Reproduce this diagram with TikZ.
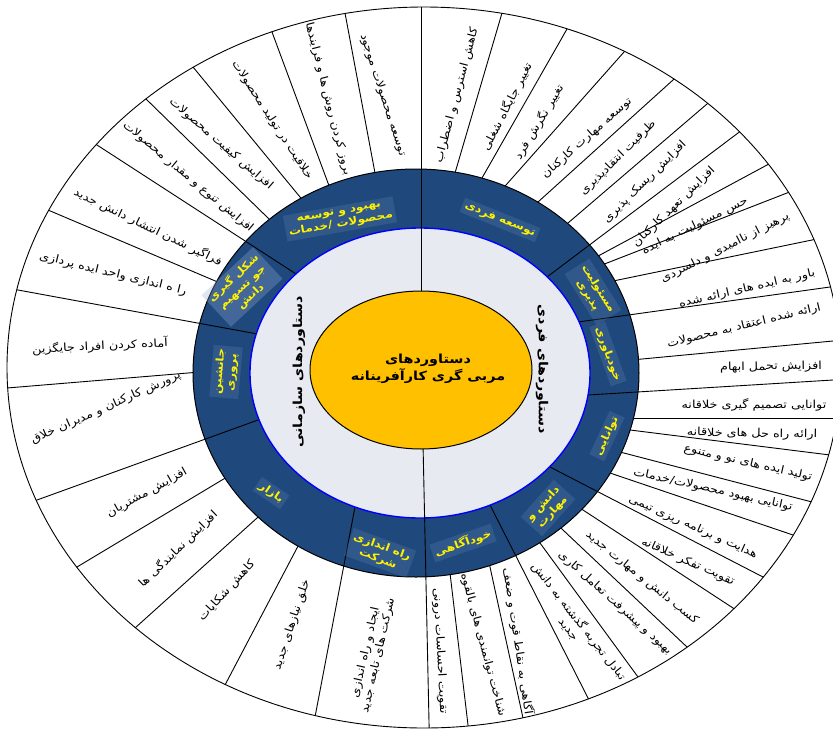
\documentclass[tikz,border=0pt]{standalone}
\usepackage{fontspec}
\usetikzlibrary{calc}
\newfontfamily\pfont[Script=Arabic, FakeStretch=1.15]{DejaVu Sans}
\TeXXeTstate=1
\newcommand{\rl}[1]{\beginR #1\endR}
\definecolor{ringblue}{RGB}{31,73,125}
\definecolor{catfill}{RGB}{150,175,215}
\definecolor{graybg}{RGB}{231,234,241}
\definecolor{corefill}{RGB}{255,192,0}
\tikzset{
  divline/.style={black, line width=0.9pt},
  itemtext/.style={font={\pfont\fontsize{11.1}{13}\selectfont}, inner sep=0pt, align=center},
  cattext/.style={font={\pfont\bfseries\fontsize{10.5}{12.5}\selectfont}, text=yellow,
    fill=catfill, fill opacity=0.15, text opacity=1, inner sep=3pt, align=center},
  halftext/.style={font={\pfont\bfseries\fontsize{12.4}{14}\selectfont}, inner sep=0pt},
  coretext/.style={font={\pfont\bfseries\fontsize{12.5}{17}\selectfont}, inner sep=0pt, align=center}
}
\begin{document}
\begin{tikzpicture}[x=1pt,y=-1pt,line join=round]
\useasboundingbox (0,0) rectangle (833,729);
\fill[white] (0,0) rectangle (833,729);
\coordinate (oc) at (424,367.5);
\coordinate (bc) at (416,373);
\coordinate (gc) at (420,373);
\coordinate (ec) at (421,370);

% outer ring of items
\draw[divline, fill=white] (oc) ellipse [x radius=417pt, y radius=360.5pt];
\begin{scope}
  \clip (oc) ellipse [x radius=417pt, y radius=360.5pt];
  \foreach \n/\ix/\iy/\ox/\oy in {
     1/455/173/502/13, 2/482/178/567/29, 3/506/185/624/52, 4/538/202/673/80,
     5/568/223/707/104, 7/600/255/767/165, 8/607/263/787/193, 9/618/280/812/240,
     11/642/359/833/341, 13/637/418/833/418, 14/630/430/830/455, 15/620/452/812/502,
     16/610/473/793/535, 18/583/510/733/608, 19/563/530/687/647, 20/540/543/638/677,
     22/490/567/523/718, 23/450/573/468/725, 26/297/548/225/685, 27/257/518/135/628,
     28/222/480/77/567, 30/188/373/7/388, 32/213/280/48/210, 34/268/218/145/98,
     35/300/197/193/67, 36/328/183/272/32, 37/375/173/345/13}{
    \coordinate (i\n) at (\ix,\iy);
    \coordinate (o\n) at (\ox,\oy);
    \draw[divline] ($(i\n)!-12pt!(o\n)$) -- ($(o\n)!-25pt!(i\n)$);
  }
\end{scope}

% ring of categories
\draw[black, line width=1pt, fill=ringblue] (bc) ellipse [x radius=223pt, y radius=204pt];
\begin{scope}
  \clip (oc) ellipse [x radius=417pt, y radius=360.5pt];
  \foreach \n/\ix/\iy/\ox/\oy in {
     6/543/280/738/133, 10/578/322/830/287, 12/588/395/833/380, 17/550/467/763/577,
     21/490/505/588/698, 25/355/507/315/717, 29/258/420/37/500, 31/252/333/18/290,
     33/293/272/97/145}{
    \coordinate (i\n) at (\ix,\iy);
    \coordinate (o\n) at (\ox,\oy);
    \draw[divline] ($(i\n)!-10pt!(o\n)$) -- ($(o\n)!-25pt!(i\n)$);
  }
\end{scope}

% inner band
\draw[blue, line width=1.4pt, fill=graybg] (gc) ellipse [x radius=170pt, y radius=145pt];
\begin{scope}
  \clip (oc) ellipse [x radius=417pt, y radius=360.5pt];
  \coordinate (topin) at (421,330);
  \coordinate (topout) at (421,-10);
  \coordinate (botin) at (422.5,420);
  \coordinate (botout) at (429.5,745);
  \draw[divline] (topin) -- (topout);
  \draw[divline] (botin) -- (botout);
\end{scope}

% core
\draw[black, line width=1pt, fill=corefill] (ec) ellipse [x radius=111pt, y radius=79pt];
\node[coretext] (core) at (428,369) {\rl{دستاوردهای}\\\rl{مربی گری کارآفرینانه}};

% halves
\node[halftext, rotate=90] (orgside) at (299,372) {\rl{دستاوردهای سازمانی}};
\node[halftext, rotate=-90] (indside) at (542,369) {\rl{دستاوردهای فردی}};

% categories
\node[cattext, rotate=-22] (c1) at (500,220) {\rl{توسعه فردی}};
\node[cattext, rotate=-58] (c2) at (593,292) {\rl{مسئولیت}\\\rl{پذیری}};
\node[cattext, rotate=-70] (c3) at (608,354) {\rl{خودباوری}};
\node[cattext, rotate=65] (c4) at (607,436) {\rl{توانایی}};
\node[cattext, rotate=48] (c5) at (548,508) {\rl{دانش و}\\\rl{مهارت}};
\node[cattext, rotate=19] (c6) at (463,543) {\rl{خودآگاهی}};
\node[cattext, rotate=-20] (c7) at (380,553) {\rl{راه اندازی}\\\rl{شرکت}};
\node[cattext, rotate=-34] (c8) at (271,493) {\rl{بازار}};
\node[cattext, rotate=85] (c9) at (226,372) {\rl{جانشین}\\\rl{پروری}};
\node[cattext, rotate=43, fill opacity=0.3] (c10) at (242,287) {\rl{شکل گیری}\\\rl{جو تسهیم}\\\rl{دانش}};
\node[cattext, rotate=10] (c11) at (340,219) {\rl{بهبود و توسعه}\\\rl{محصولات /خدمات}};

% items, individual side
\node[itemtext, rotate=75] (t1) at (457,95) {\rl{کاهش استرس و اضطراب}};
\node[itemtext, rotate=63] (t2) at (507,107) {\rl{تغییر جایگاه شغلی}};
\node[itemtext, rotate=59] (t3) at (539,122) {\rl{تغییر نگرش فرد}};
\node[itemtext, rotate=41.5] (t4) at (587,138) {\rl{توسعه مهارت کارکنان}};
\node[itemtext, rotate=44.6] (t5) at (618,158) {\rl{ظرفیت انتقادپذیری}};
\node[itemtext, rotate=44.7] (t6) at (645,182) {\rl{افزایش ریسک پذیری}};
\node[itemtext, rotate=44] (t7) at (674,207) {\rl{افزایش تعهد کارکنان}};
\node[itemtext, rotate=26] (t8) at (695,226) {\rl{حس مسئولیت به ایده}};
\node[itemtext, rotate=27] (t9) at (725,248) {\rl{پرهیز از ناامیدی و دلسردی}};
\node[itemtext, rotate=13] (t10) at (747,289) {\rl{باور به ایده های ارائه شده}};
\node[itemtext, rotate=13.5] (t11) at (744,326) {\rl{ارائه شده اعتقاد به محصولات}};
\node[itemtext, rotate=1] (t12) at (771,367) {\rl{افزایش تحمل ابهام}};
\node[itemtext, rotate=0] (t13) at (754,405) {\rl{توانایی تصمیم گیری خلاقانه}};
\node[itemtext, rotate=-1] (t14) at (752,434) {\rl{ارائه راه حل های خلاقانه}};
\node[itemtext, rotate=-12.8] (t15) at (748,463) {\rl{تولید ایده های نو و متنوع}};
\node[itemtext, rotate=-12.5] (t16) at (713,490) {\rl{توانایی بهبود محصولات/خدمات}};
\node[itemtext, rotate=-24] (t17) at (693,527) {\rl{هدایت و برنامه ریزی تیمی}};
\node[itemtext, rotate=-24] (t18) at (688,562) {\rl{تقویت تفکر خلاقانه}};
\node[itemtext, rotate=-39] (t19) at (642,578) {\rl{کسب دانش و مهارت جدید}};
\node[itemtext, rotate=-42] (t20) at (615,603) {\rl{بهبود و پیشرفت تعامل کاری}};
\node[itemtext, rotate=-52] (t21) at (574,625) {\rl{تبادل تجربه گذشته به دانش}\\\rl{جدید}};
\node[itemtext, rotate=-81.5] (t22) at (518,641) {\rl{آگاهی به نقاط قوت و ضعف}};
\node[itemtext, rotate=-75] (t23) at (483,645) {\rl{شناخت توانمندی های بالقوه}};
\node[itemtext, rotate=-87] (t24) at (440,651) {\rl{تقویت احساسات درونی}};

% items, organisational side
\node[itemtext, rotate=77] (t25) at (372,654) {\rl{ایجاد و راه اندازی}\\\rl{شرکت های تابعه جدید}};
\node[itemtext, rotate=71.6] (t26) at (292,625) {\rl{خلق نیازهای جدید}};
\node[itemtext, rotate=47.6] (t27) at (227,591) {\rl{کاهش شکایات}};
\node[itemtext, rotate=44] (t28) at (178,549) {\rl{افزایش نمایندگی ها}};
\node[itemtext, rotate=29] (t29) at (147,493) {\rl{افزایش مشتریان}};
\node[itemtext, rotate=24] (t30) at (106,408) {\rl{پرورش کارکنان و مدیران خلاق}};
\node[itemtext, rotate=2.8] (t31) at (100,346) {\rl{آماده کردن افراد جایگزین}};
\node[itemtext, rotate=-13.6] (t32) at (113,274) {\rl{را ه اندازی واحد ایده پردازی}};
\node[itemtext, rotate=-25.8] (t33) at (148,227) {\rl{فراگیر شدن انتشار دانش جدید}};
\node[itemtext, rotate=-39.7] (t34) at (188,177) {\rl{افزایش تنوع و مقدار محصولات}};
\node[itemtext, rotate=-40.8] (t35) at (221,144) {\rl{افزایش کیفیت محصولات}};
\node[itemtext, rotate=-57] (t36) at (272,120) {\rl{خلاقیت در تولید محصولات}};
\node[itemtext, rotate=-75.7] (t37) at (328,99) {\rl{بروز کردن روش ها و فرایندها}};
\node[itemtext, rotate=-72] (t38) at (383,95) {\rl{توسعه محصولات موجود}};
\end{tikzpicture}
\end{document}
